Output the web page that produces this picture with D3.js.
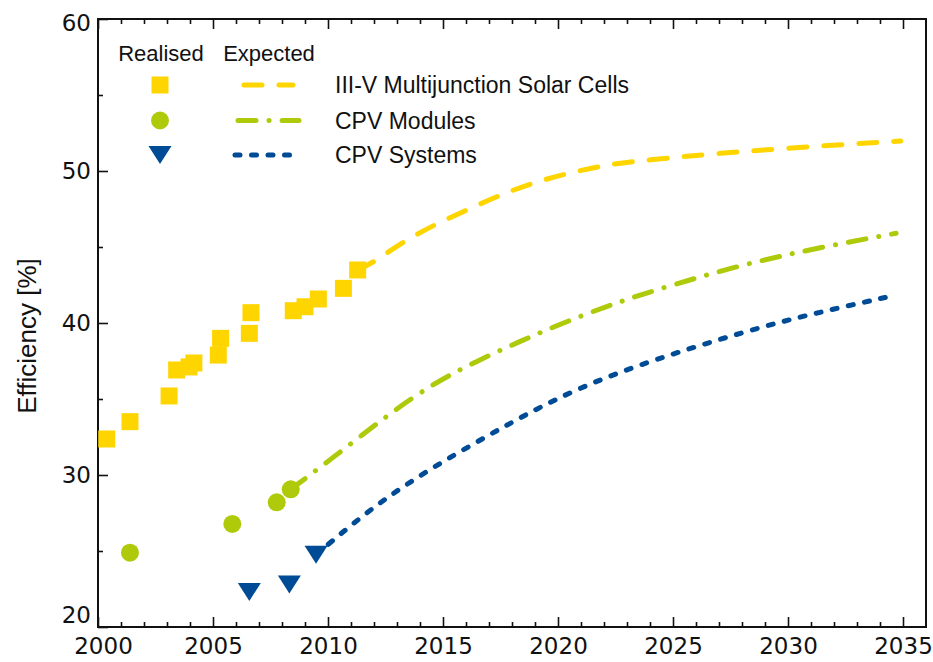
<!DOCTYPE html>
<html>
<head>
<meta charset="utf-8">
<script src="https://cdn.jsdelivr.net/npm/d3@7"></script>
<style>
body { margin: 0; background: #fff; }
.tick text { font-family: "DejaVu Sans", sans-serif; font-size: 23px; fill: #111; }
.legend text { font-family: "Liberation Sans", Arial, sans-serif; fill: #111; }
</style>
</head>
<body>
<svg id="graph1"></svg>
<script>
// realised records
var cellYears  = [2000.38, 2001.39, 2003.09, 2003.42, 2003.96, 2004.17, 2005.23, 2005.33, 2006.58, 2006.65, 2008.49, 2009.0, 2009.58, 2010.67, 2011.29]
var cellValues = [32.37, 33.51, 35.2, 36.91, 37.11, 37.37, 37.89, 38.99, 39.32, 40.68, 40.81, 41.07, 41.58, 42.28, 43.49]
var moduleYears  = [2001.39, 2005.84, 2007.77, 2008.38]
var moduleValues = [24.89, 26.78, 28.2, 29.06]
var systemYears  = [2006.58, 2008.32, 2009.48]
var systemValues = [22.3, 22.8, 24.76]

// expected curves
var cellExpYears  = [2011.29, 2012, 2013.1, 2014.6, 2016.2, 2017.7, 2019.2, 2020.7, 2022.3, 2023.9, 2026.9, 2029.9, 2033.0, 2034.9]
var cellExpValues = [43.49, 44.0, 45.2, 46.45, 47.55, 48.57, 49.36, 49.95, 50.46, 50.72, 51.16, 51.49, 51.8, 51.97]
var moduleExpYears  = [2008.38, 2010.1, 2012.55, 2014.5, 2016.4, 2018.35, 2020.2, 2022.3, 2024.0, 2027.9, 2031.7, 2034.7]
var moduleExpValues = [29.06, 31.0, 33.9, 35.95, 37.45, 38.8, 40.0, 41.2, 42.06, 43.82, 45.07, 45.9]
var systemExpYears  = [2009.48, 2011.7, 2013.7, 2015.8, 2017.9, 2019.9, 2022.0, 2025.0, 2029.1, 2031.8, 2034.7]
var systemExpValues = [24.76, 27.6, 29.7, 31.6, 33.4, 35.0, 36.4, 38.0, 39.87, 40.86, 41.84]

var seriesNames = ["III-V Multijunction Solar Cells", "CPV Modules", "CPV Systems"]
var seriesColors = ["#FFD500", "#AFCA0B", "#004B96"]
var xMajor = [2000, 2005, 2010, 2015, 2020, 2025, 2030, 2035]
var yMajor = [20, 30, 40, 50, 60]

var screen = {width: 933, height: 662}
var margins = {top: 19, bottom: 35, left: 98, right: 7}
var width = screen.width - margins.left - margins.right
var height = screen.height - margins.top - margins.bottom

var svg = d3.select("#graph1")
    .attr("width", screen.width)
    .attr("height", screen.height)

var xScale = d3.scaleLinear().domain([2000, 2036]).range([0, width])
var yScale = d3.scaleLinear().domain([20, 60]).range([height, 0])

var g = svg.append("g")
    .attr("transform", "translate(" + margins.left + "," + margins.top + ")")

// axes
var xMinor = d3.range(2001, 2036).filter(function(d){ return d % 5 != 0 })
var yMinor = [25, 35, 45, 55]

g.append("g").attr("transform", "translate(0," + height + ")")
    .call(d3.axisBottom(xScale).tickValues(xMinor).tickSize(-5).tickFormat(""))
var xAxisG = g.append("g").attr("transform", "translate(0," + height + ")")
    .call(d3.axisBottom(xScale).tickValues(xMajor).tickSize(-10).tickPadding(11).tickFormat(d3.format("d")))
xAxisG.selectAll(".tick text").filter(function(d){ return d == 2000 }).attr("dx", 5)

g.append("g").call(d3.axisTop(xScale).tickValues(xMinor).tickSize(-5).tickFormat(""))
g.append("g").call(d3.axisTop(xScale).tickValues(xMajor).tickSize(-10).tickFormat(""))

g.append("g").call(d3.axisLeft(yScale).tickValues(yMinor).tickSize(-5).tickFormat(""))
var yAxisG = g.append("g").call(d3.axisLeft(yScale).tickValues(yMajor).tickSize(-10).tickPadding(7))
// end labels are pulled inside the frame
yAxisG.selectAll(".tick text").attr("dy", function(d){
    if (d == 20) return "-0.2em"
    if (d == 60) return "0.5em"
    return "0.32em"
})

g.selectAll(".domain").remove()
g.selectAll(".tick line").attr("stroke", "#111").attr("stroke-width", 1.6)

g.append("rect")
    .attr("width", width)
    .attr("height", height)
    .attr("fill", "none")
    .attr("stroke", "#111")
    .attr("stroke-width", 2)

svg.append("text")
    .attr("transform", "translate(36," + 336 + ") rotate(-90)")
    .attr("text-anchor", "middle")
    .style("font-family", "Liberation Sans, Arial, sans-serif")
    .style("font-size", "26px")
    .attr("fill", "#111")
    .text("Efficiency [%]")

// expected lines
var dashes = ["18,17", "18,13,0.1,13", "5,11.5"]
var expected = [
    {years: cellExpYears, values: cellExpValues},
    {years: moduleExpYears, values: moduleExpValues},
    {years: systemExpYears, values: systemExpValues}
]
var line = d3.line()
    .x(function(d){ return xScale(d[0]) })
    .y(function(d){ return yScale(d[1]) })
    .curve(d3.curveBasis)

expected.forEach(function(s, i) {
    var pts = s.years.map(function(y, j){ return [y, s.values[j]] })
    g.append("path")
        .datum(pts)
        .attr("d", line)
        .attr("fill", "none")
        .attr("stroke", seriesColors[i])
        .attr("stroke-width", 5)
        .attr("stroke-linecap", "round")
        .attr("stroke-dasharray", dashes[i])
})

// realised markers
var squareSym = d3.symbol().type(d3.symbolSquare).size(289)
var triPath = "M-11.5,-9L11.5,-9L0,9Z"

var zip = function(a, b) { return a.map(function(d, i){ return [d, b[i]] }) }

g.selectAll(".cell")
    .data(zip(cellYears, cellValues))
    .enter().append("path")
    .attr("class", "cell")
    .attr("d", squareSym)
    .attr("transform", function(d){ return "translate(" + xScale(d[0]) + "," + yScale(d[1]) + ")" })
    .attr("fill", seriesColors[0])

g.selectAll(".module")
    .data(zip(moduleYears, moduleValues))
    .enter().append("circle")
    .attr("class", "module")
    .attr("cx", function(d){ return xScale(d[0]) })
    .attr("cy", function(d){ return yScale(d[1]) })
    .attr("r", 9)
    .attr("fill", seriesColors[1])

g.selectAll(".system")
    .data(zip(systemYears, systemValues))
    .enter().append("path")
    .attr("class", "system")
    .attr("d", triPath)
    .attr("transform", function(d){ return "translate(" + xScale(d[0]) + "," + yScale(d[1]) + ")" })
    .attr("fill", seriesColors[2])

// legend
var legend = svg.append("g").attr("class", "legend")
legend.append("text").attr("x", 161).attr("y", 61).attr("text-anchor", "middle")
    .style("font-size", "22px").text("Realised")
legend.append("text").attr("x", 269).attr("y", 61).attr("text-anchor", "middle")
    .style("font-size", "22px").text("Expected")

var rowY = [85, 120.5, 155]
seriesNames.forEach(function(name, i) {
    var yy = rowY[i]
    if (i == 0) {
        legend.append("path").attr("d", squareSym).attr("transform", "translate(160," + yy + ")").attr("fill", seriesColors[i])
    } else if (i == 1) {
        legend.append("circle").attr("cx", 160).attr("cy", yy).attr("r", 9).attr("fill", seriesColors[i])
    } else {
        legend.append("path").attr("d", triPath).attr("transform", "translate(160," + yy + ")").attr("fill", seriesColors[i])
    }
    var x0 = [244, 238, 235][i], x1 = [293, 299, 301][i]
    legend.append("line")
        .attr("x1", x0).attr("x2", x1).attr("y1", yy).attr("y2", yy)
        .attr("stroke", seriesColors[i])
        .attr("stroke-width", 5)
        .attr("stroke-linecap", "round")
        .attr("stroke-dasharray", dashes[i])
    legend.append("text")
        .attr("x", 335).attr("y", yy + 8)
        .style("font-size", "23px")
        .text(name)
})
</script>
</body>
</html>
